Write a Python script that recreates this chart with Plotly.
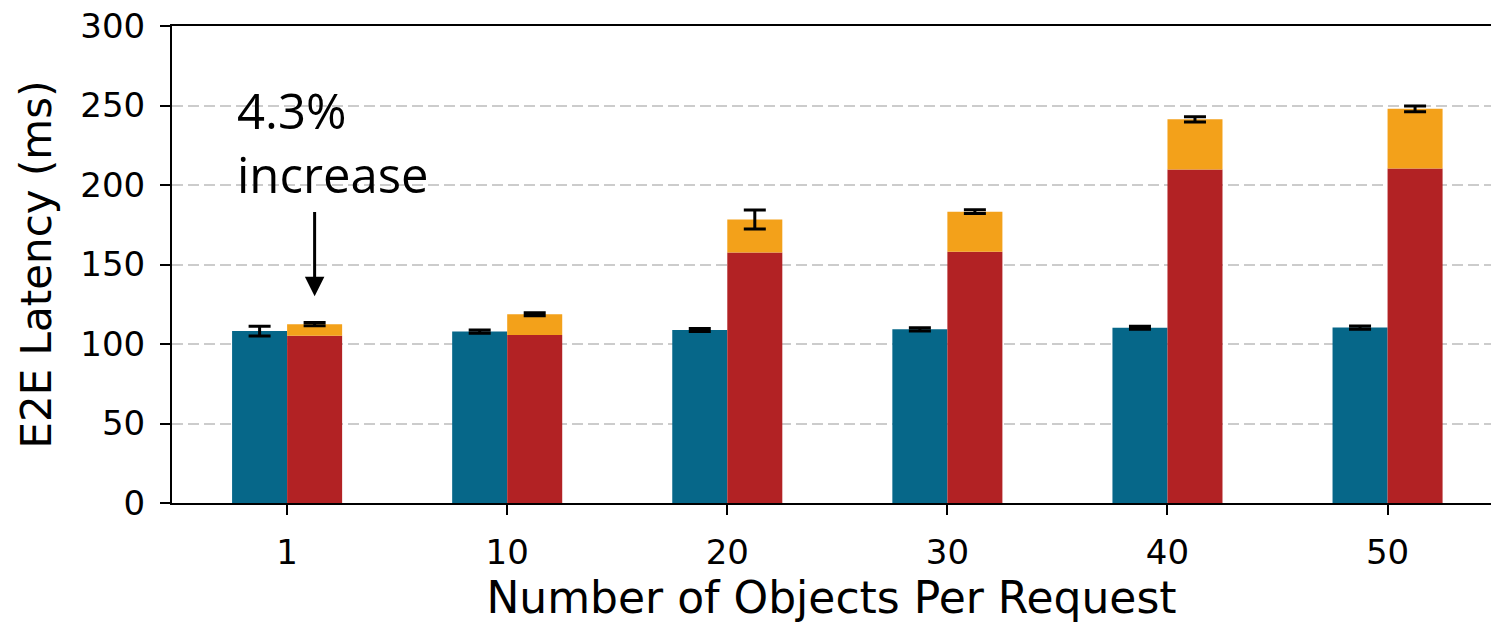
import plotly.graph_objects as go

categories = ["1", "10", "20", "30", "40", "50"]
baseline = [108.1, 107.8, 108.8, 109.2, 110.2, 110.3]
baseline_err = [3.0, 1.0, 1.0, 1.0, 1.0, 1.0]
system_base = [105.2, 105.6, 157.5, 158.0, 209.8, 210.4]
system_total = [112.5, 118.7, 178.3, 183.2, 241.3, 247.9]
system_err = [1.0, 1.0, 6.0, 1.2, 1.6, 1.8]
y_ticks = [0, 50, 100, 150, 200, 250, 300]

BLUE = "#066789"
RED = "#B22224"
ORANGE = "#F3A11A"

extra = [t - b for t, b in zip(system_total, system_base)]

fig = go.Figure()
fig.add_trace(go.Bar(
    x=categories, y=baseline, offset=-0.25, width=0.25,
    marker=dict(color=BLUE, line=dict(width=0)),
    error_y=dict(type="data", array=baseline_err, color="black", thickness=3, width=11),
    name="baseline"))
fig.add_trace(go.Bar(
    x=categories, y=system_base, offset=0, width=0.25,
    marker=dict(color=RED, line=dict(width=0)), name="base"))
fig.add_trace(go.Bar(
    x=categories, y=extra, base=system_base, offset=0, width=0.25,
    marker=dict(color=ORANGE, line=dict(width=0)),
    error_y=dict(type="data", array=system_err, color="black", thickness=3, width=11),
    name="overhead"))

fig.add_annotation(x=0.125, y=130, ax=0.125, ay=184, xref="x", yref="y",
                   axref="x", ayref="y", text="", showarrow=True,
                   arrowhead=2, arrowsize=1.3, arrowwidth=3, arrowcolor="black")
fig.add_annotation(x=-0.235, y=269, xref="x", yref="y", xanchor="left", yanchor="top",
                   text="4.3%<br>increase", showarrow=False, align="left",
                   font=dict(family="Open Sans", size=49, color="black", weight=500))

fig.add_shape(type="rect", xref="paper", yref="paper", x0=0.992, x1=1.0, y0=0.05, y1=0.1,
              fillcolor="white", line=dict(width=0))

fig.update_layout(
    width=1491, height=623,
    margin=dict(l=172, r=0, t=26, b=120),
    barmode="overlay",
    showlegend=False,
    plot_bgcolor="white", paper_bgcolor="white",
    font=dict(family="DejaVu Sans", color="black"),
)
fig.update_xaxes(
    type="category", range=[-0.523, 5.47],
    showline=True, linecolor="black", linewidth=2, mirror=True,
    ticks="outside", ticklen=10, tickwidth=2, tickcolor="black",
    tickfont=dict(size=34), ticklabelstandoff=8, showgrid=False,
    title=dict(text="Number of Objects Per Request", font=dict(size=44), standoff=13),
)
fig.update_yaxes(
    range=[0, 300], tickvals=y_ticks,
    showline=True, linecolor="black", linewidth=2, mirror=False,
    ticks="outside", ticklen=10, tickwidth=2, tickcolor="black",
    tickfont=dict(size=34), ticklabelstandoff=8,
    showgrid=True, gridcolor="#cccccc", gridwidth=2, griddash="11px,5px",
    zeroline=False,
    title=dict(text="E2E Latency (ms)", font=dict(size=42), standoff=16),
)
fig.write_html("out.html", config={"displayModeBar": False},
               post_script="document.body.style.margin='0';document.body.style.overflow='hidden';"
                           "document.documentElement.style.overflow='hidden';")
